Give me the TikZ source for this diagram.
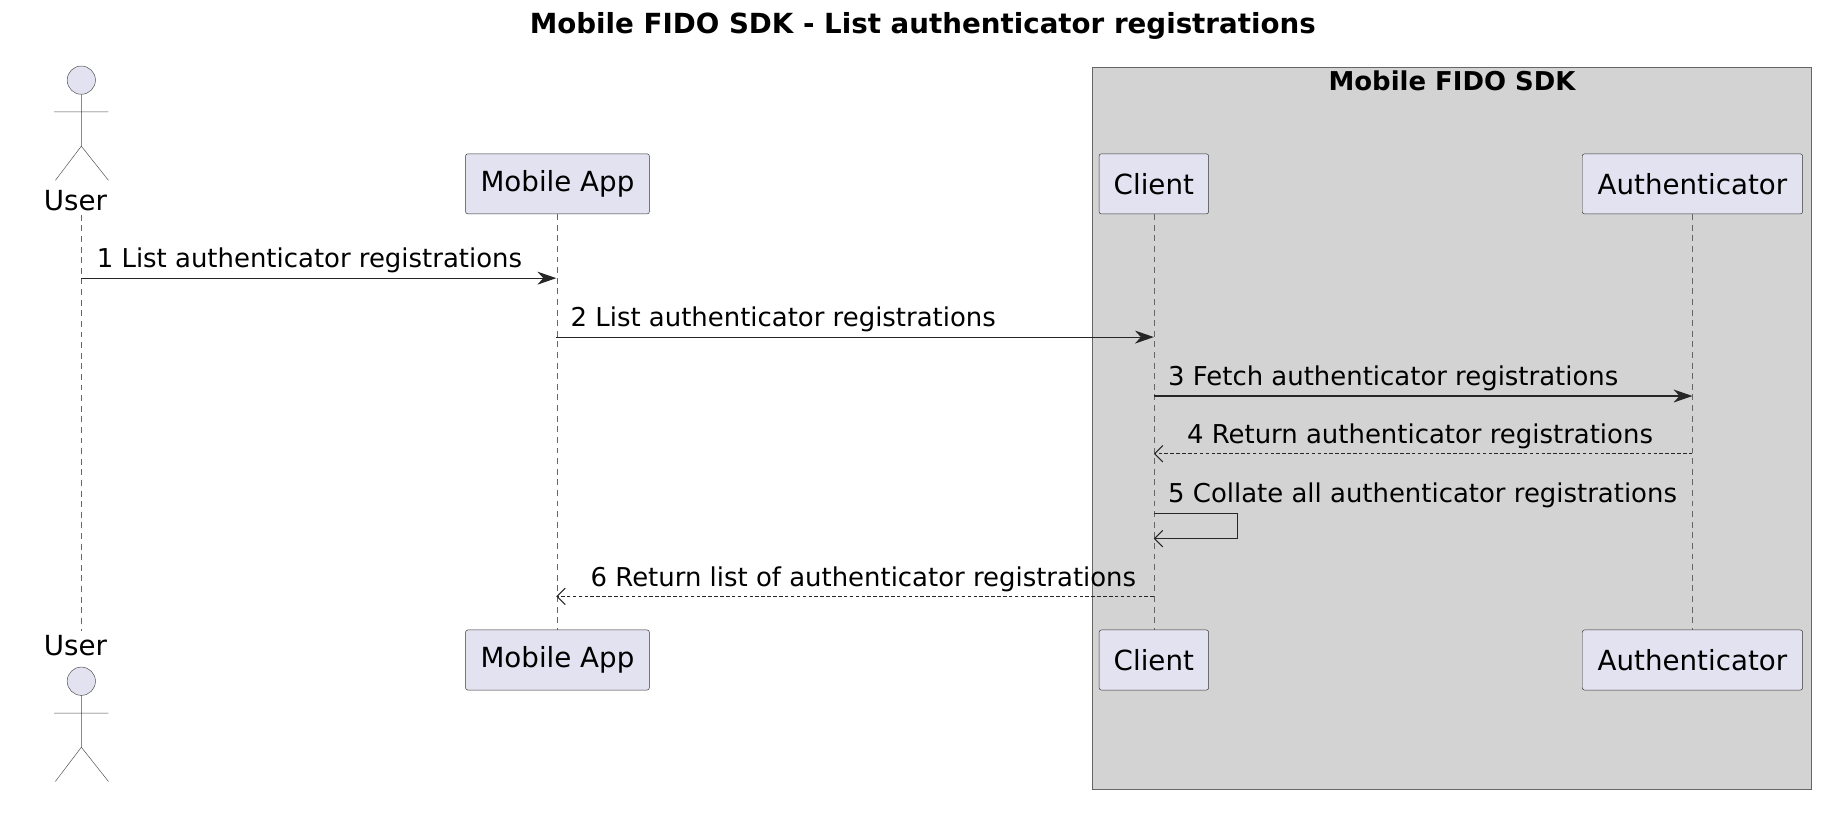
\documentclass[tikz,border=0pt]{standalone}
\usepackage{fontspec}
\setmainfont{DejaVu Sans}
\usetikzlibrary{arrows.meta,positioning}
\definecolor{partfill}{HTML}{E2E2F0}
\definecolor{boxfill}{HTML}{D3D3D3}
\begin{document}
\begin{tikzpicture}[x=1pt,y=-1pt,
  every node/.style={font=\fontsize{22}{26}\selectfont},
  big/.style={font=\fontsize{23.5}{28}\selectfont},
  part/.style={big,draw=black!80,fill=partfill,rounded corners=2pt,minimum height=51pt,inner xsep=4pt},
  life/.style={draw=black!60,dash pattern=on 5pt off 4pt},
  msg/.style={draw=black!85,line width=0.9pt,-{Stealth[length=16pt,width=11pt,inset=5pt]}},
  ret/.style={draw=black!85,line width=0.9pt,dash pattern=on 3pt off 2pt,-{Straight Barb[length=7pt,width=14pt]}},
  lbl/.style={anchor=south west,inner sep=2pt}
]
\useasboundingbox (0,0) rectangle (1568,689);

% title and group box
\node[big] (title) at (783,22) {\bfseries Mobile FIDO SDK - List authenticator registrations};
\draw[draw=black!60,fill=boxfill] (927,57) rectangle (1537,670);
\node (grp) at (1232,69) {\bfseries Mobile FIDO SDK};

% participants
\node[part,minimum width=156pt] (appT) at (473,156) {Mobile App};
\node[part,minimum width=93pt] (cliT) at (979,156) {Client};
\node[part,minimum width=187pt] (autT) at (1436,156) {Authenticator};
\node[part,minimum width=156pt] (appB) at (473,560) {Mobile App};
\node[part,minimum width=93pt] (cliB) at (979,560) {Client};
\node[part,minimum width=187pt] (autB) at (1436,560) {Authenticator};
\node[big] (userT) at (64,170) {User};
\node[big] (userB) at (64,548) {User};

% actors
\foreach \y/\n in {68/A,578/B}{
  \draw[draw=black!70,fill=partfill] (69,\y) circle (12);
  \draw[draw=black!70] (69,\y+12) -- (69,\y+56) (46,\y+27) -- (92,\y+27)
    (47,\y+85) -- (69,\y+56) -- (92,\y+85);
}

% lifelines
\draw[life] (userT.south -| 69,0) -- (userB.north -| 69,0);
\draw[life] (appT) -- (appB);
\draw[life] (cliT) -- (cliB);
\draw[life] (autT) -- (autB);

% message ends
\coordinate (u1) at (69,236);  \coordinate (a1) at (472,236);
\coordinate (a2) at (472,286); \coordinate (c2) at (979,286);
\coordinate (c3) at (979,336); \coordinate (t3) at (1436,336);
\coordinate (t4) at (1436,385); \coordinate (c4) at (979,385);
\coordinate (c5) at (979,436); \coordinate (c5b) at (979,457);
\coordinate (c6) at (979,506); \coordinate (a6) at (472,506);

% messages
\draw[msg] (u1) -- (a1);
\node[lbl] (l1) at (80,234) {1 List authenticator registrations};
\draw[msg] (a2) -- (c2);
\node[lbl] (l2) at (482,284) {2 List authenticator registrations};
\draw[msg] (c3) -- (t3);
\node[lbl] (l3) at (989,334) {3 Fetch authenticator registrations};
\draw[ret] (t4) -- (c4);
\node[lbl] (l4) at (1005,383) {4 Return authenticator registrations};
\draw[msg,-{Straight Barb[length=7pt,width=14pt]}] (c5) -| (1050,457) -- (c5b);
\node[lbl] (l5) at (989,433) {5 Collate all authenticator registrations};
\draw[ret] (c6) -- (a6);
\node[lbl] (l6) at (499,504) {6 Return list of authenticator registrations};
\end{tikzpicture}
\end{document}
